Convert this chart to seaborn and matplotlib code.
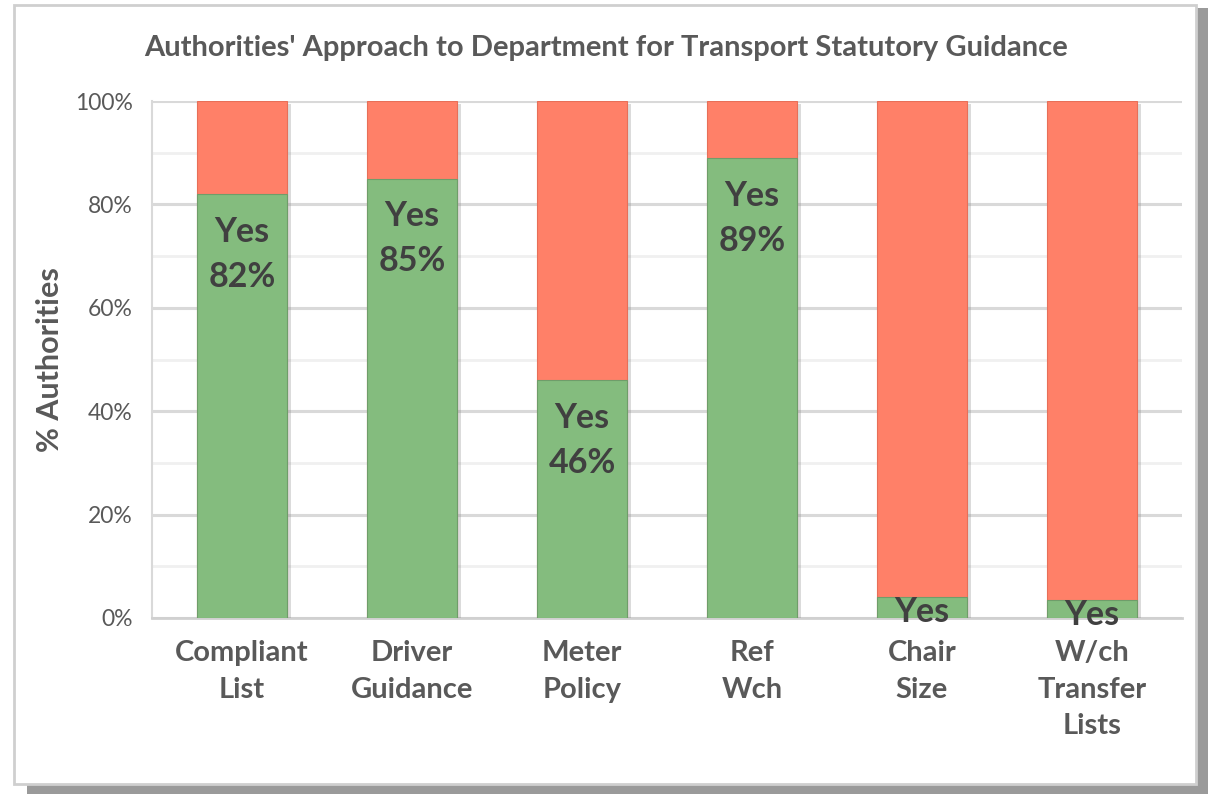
import numpy as np
import pandas as pd
import matplotlib.pyplot as plt
import matplotlib.patheffects as pe
from matplotlib.patches import Rectangle
import seaborn as sns

# Data
categories = ['Compliant\nList', 'Driver\nGuidance', 'Meter\nPolicy', 'Ref\nWch',
              'Chair\nSize', 'W/ch\nTransfer\nLists']
yes_pct = [82, 85, 46, 89, 4, 3.5]
no_pct = [100 - v for v in yes_pct]

df = pd.DataFrame({'category': categories, 'yes': yes_pct, 'no': no_pct})
df['total'] = df['yes'] + df['no']

sns.set_theme(style='white')
plt.rcParams['font.family'] = ['Lato', 'DejaVu Sans']

fig = plt.figure(figsize=(12.08, 7.94), dpi=100)
fig.patch.set_facecolor('white')

# chart frame with shadow
fig.patches.append(Rectangle((0.022, 0.0), 0.978, 0.99, transform=fig.transFigure,
                             facecolor='#9a9a9a', edgecolor='none', zorder=-3))
fig.patches.append(Rectangle((0.012, 0.012), 0.978, 0.982, transform=fig.transFigure,
                             facecolor='white', edgecolor='#cfcfcf', lw=2, zorder=-2))

ax = fig.add_axes([152 / 1208, 1 - 618 / 794, (1182 - 152) / 1208, (618 - 101) / 794])
ax.set_facecolor('white')

green = '#84BC7E'
red = '#FF8068'
shadow = [pe.SimplePatchShadow(offset=(3, -2), shadow_rgbFace='#888888', alpha=0.3), pe.Normal()]

sns.barplot(data=df, x='category', y='total', color=red, saturation=1, width=0.53,
            ax=ax, zorder=3)
sns.barplot(data=df, x='category', y='yes', color=green, saturation=1, width=0.53,
            ax=ax, zorder=4)
for i, p in enumerate(ax.patches):
    p.set_edgecolor('#6f9d6a' if i >= len(categories) else '#e86f58')
    p.set_linewidth(0.8)
    if i < len(categories):
        p.set_path_effects(shadow)

# gridlines
ax.set_ylim(0, 100)
ax.set_xlim(-0.53, len(categories) - 0.47)
ax.set_yticks(np.arange(0, 101, 20))
ax.set_yticks(np.arange(10, 100, 20), minor=True)
ax.grid(axis='y', which='major', color='#d9d9d9', lw=2.2, zorder=0)
ax.grid(axis='y', which='minor', color='#f0f0f0', lw=2, zorder=0)
ax.set_axisbelow(True)
for s in ['top', 'right']:
    ax.spines[s].set_visible(False)
ax.spines['left'].set_color('#d9d9d9')
ax.spines['left'].set_linewidth(1.5)
ax.spines['bottom'].set_color('#d0d0d0')
ax.spines['bottom'].set_linewidth(2)

ax.set_yticklabels([f'{t}%' for t in range(0, 101, 20)], fontsize=16.5, color='#595959')
ax.tick_params(axis='y', which='major', length=6, color='#d9d9d9', pad=8)
ax.tick_params(axis='y', which='minor', length=0)
ax.tick_params(axis='x', length=0, pad=16)
ax.set_xticks(range(len(categories)))
ax.set_xticklabels(categories, fontsize=21, fontweight='bold', color='#595959',
                   linespacing=1.5, va='top')
ax.set_xlabel('')
ax.set_ylabel('% Authorities', fontsize=22, fontweight='bold', color='#595959', labelpad=8)

# value labels
for i, v in enumerate(yes_pct):
    if v > 10:
        ax.text(i, v - 4.2, f'Yes\n{v:.0f}%', ha='center', va='top', fontsize=24.5,
                fontweight='bold', color='#404040', linespacing=1.5, zorder=6)
    else:
        ax.text(i, v - 6.0, 'Yes', ha='center', va='bottom', fontsize=24.5,
                fontweight='bold', color='#404040', zorder=6, clip_on=False)

fig.text(0.502, 0.94, "Authorities' Approach to Department for Transport Statutory Guidance",
         ha='center', va='center', fontsize=21, fontweight='bold', color='#595959')

fig.savefig('out.png', dpi=100, facecolor='white')
